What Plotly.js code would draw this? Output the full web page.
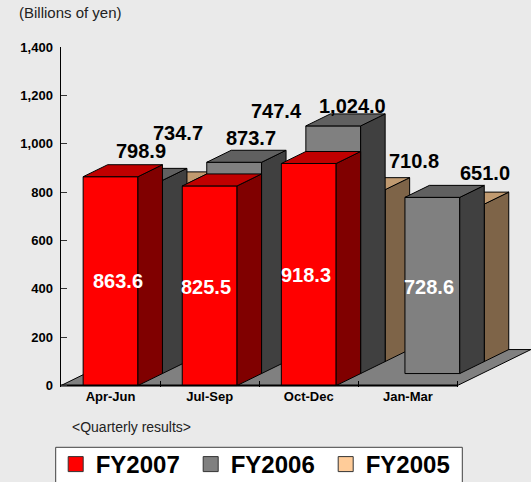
<!DOCTYPE html>
<html><head><meta charset="utf-8">
<script src="https://cdn.plot.ly/plotly-3.0.1.min.js"></script>
<style>html,body{margin:0;padding:0;background:#EAEAEA}</style>
</head><body><div id="chart" style="width:531px;height:482px"></div>
<script>
// ---- data ----
const categories = ['Apr-Jun', 'Jul-Sep', 'Oct-Dec', 'Jan-Mar'];
const seriesNames = ['FY2007', 'FY2006', 'FY2005'];
const fy2007 = [863.6, 825.5, 918.3, null];
const fy2006 = [798.9, 873.7, 1024.0, 728.6];
const fy2005 = [734.7, 747.4, 710.8, 651.0];
const yTickVals = [0, 200, 400, 600, 800, 1000, 1200, 1400];

// ---- styles / layout constants ----
const W = 531, H = 482;
const M = {l: 61, r: 0, t: 47, b: 95};
const plotW = W - M.l - M.r, plotH = H - M.t - M.b;
const yMin = -6, yMax = 1400;
const pxPerUnitY = plotH / (yMax - yMin);
const catPx = 99.1;                 // pixel width of one category
const xMax = plotW / catPx;
const barW = 0.553;                 // bar width as fraction of category
const dX = 24.5 / catPx;            // depth offset per series (x, category units)
const dY = 12 / pxPerUnitY;         // depth offset per series (y, value units)
const FONT = 'Liberation Sans, Arial, sans-serif';
const faceColors = [
  {front: '#FF0000', top: '#C00000', side: '#800000'},
  {front: '#808080', top: '#606060', side: '#404040'},
  {front: '#FFCC99', top: '#C09A70', side: '#7E6448'}
];
// pixel nudges [dx, dy(up)] for each value label
const labelNudge = [
  [[7, 0], [-4, -1], [-3, 0], null],
  [[-6.5, 23.6], [4.6, 17.9], [7, 13.5], [-3.4, -2]],
  [[5.8, 44.6], [5.9, 63.5], [44.2, 22.4], [15.7, 25.5]]
];

const series = [fy2007, fy2006, fy2005];
const nCat = categories.length, nSlot = series.length;
const traces = [];
const base = {type: 'scatter', mode: 'lines', hoverinfo: 'skip', showlegend: false};

// floor
traces.push(Object.assign({}, base, {
  x: [0, nCat, nCat + nSlot * dX, nSlot * dX, 0],
  y: [0, 0, nSlot * dY, nSlot * dY, 0],
  fill: 'toself', fillcolor: '#808080', line: {color: '#000', width: 1}
}));

// bars, back to front
for (let k = nSlot - 1; k >= 0; k--) {
  const vals = series[k];
  const fx = [], fy = [], sx = [], sy = [], tx = [], ty = [];
  vals.forEach((v, i) => {
    if (v == null) return;
    const x0 = i + (1 - barW) / 2 + k * dX, x1 = x0 + barW;
    const y0 = k * dY, y1 = y0 + v;
    fx.push(x0, x1, x1, x0, x0, null); fy.push(y0, y0, y1, y1, y0, null);
    sx.push(x1, x1 + dX, x1 + dX, x1, x1, null); sy.push(y0, y0 + dY, y1 + dY, y1, y0, null);
    tx.push(x0, x1, x1 + dX, x0 + dX, x0, null); ty.push(y1, y1, y1 + dY, y1 + dY, y1, null);
  });
  const c = faceColors[k];
  traces.push(Object.assign({}, base, {x: fx, y: fy, fill: 'toself', fillcolor: c.front, line: {color: '#000', width: 1}}));
  traces.push(Object.assign({}, base, {x: sx, y: sy, fill: 'toself', fillcolor: c.side, line: {color: '#000', width: 1}}));
  traces.push(Object.assign({}, base, {x: tx, y: ty, fill: 'toself', fillcolor: c.top, line: {color: '#000', width: 1}}));
}

// floor front edge
traces.push(Object.assign({}, base, {x: [0, nCat], y: [0, 0], line: {color: '#000', width: 2}}));

// legend entries
seriesNames.forEach((name, k) => {
  traces.push({type: 'scatter', mode: 'markers', x: [null], y: [null], name: name,
    marker: {symbol: 'square', size: 15, color: faceColors[k].front, line: {color: '#333', width: 1}},
    hoverinfo: 'skip', showlegend: true});
});

// value labels
const fmt = v => v.toLocaleString('en-US', {minimumFractionDigits: 1, maximumFractionDigits: 1});
const annotations = [];
series.forEach((vals, k) => vals.forEach((v, i) => {
  if (v == null) return;
  const isFront = series.findIndex(s => s[i] != null) === k;
  const nudge = labelNudge[k][i] || [0, 0];
  let x, y;
  if (isFront) { x = i + 0.5 + k * dX; y = k * dY + v / 2; }
  else { x = i + 0.5 + k * dX + dX / 2; y = v + k * dY + dY / 2; }
  annotations.push({x, y, xref: 'x', yref: 'y', text: fmt(v), showarrow: false,
    xanchor: 'center', yanchor: 'middle', xshift: nudge[0], yshift: nudge[1],
    font: {family: FONT, size: 20, weight: 'bold', color: isFront ? '#FFFFFF' : '#000000'}});
}));

const pxX = px => (px - M.l) / plotW;
const pxY = py => (H - M.b - py) / plotH;
annotations.push({xref: 'paper', yref: 'paper', x: pxX(16.7), y: pxY(13), xanchor: 'left', yanchor: 'middle',
  text: '(Billions of yen)', showarrow: false, font: {family: FONT, size: 15, color: '#222'}});
annotations.push({xref: 'paper', yref: 'paper', x: pxX(70.4), y: pxY(426.7), xanchor: 'left', yanchor: 'middle',
  text: '&lt;Quarterly results&gt;', showarrow: false, font: {family: FONT, size: 14, color: '#222'}});

const layout = {
  width: W, height: H,
  margin: Object.assign({autoexpand: false, pad: 0}, M),
  paper_bgcolor: '#EAEAEA', plot_bgcolor: 'rgba(0,0,0,0)',
  font: {family: FONT, color: '#000'},
  showlegend: true,
  xaxis: {range: [0, xMax], showgrid: false, zeroline: false, showline: false,
    tickmode: 'array', tickvals: categories.map((c, i) => i + 0.5), ticktext: categories, ticks: '',
    tickfont: {family: FONT, size: 13, weight: 'bold', color: '#000'},
    minor: {tickmode: 'array', tickvals: categories.map((c, i) => i + 1), ticks: 'inside', ticklen: 6, tickcolor: '#000', tickwidth: 1, showgrid: false},
    fixedrange: true},
  yaxis: {range: [yMin, yMax], showgrid: false, zeroline: false, showline: true, linecolor: '#000', linewidth: 1.5,
    tickmode: 'array', tickvals: yTickVals, tickformat: ',', ticks: 'inside', ticklen: 6, tickcolor: '#333', tickwidth: 1,
    ticklabelstandoff: 4,
    tickfont: {family: FONT, size: 13, weight: 'bold', color: '#000'}, fixedrange: true},
  legend: {orientation: 'h', x: pxX(55.7), xanchor: 'left', y: pxY(442), yanchor: 'top',
    bgcolor: 'rgba(0,0,0,0)', borderwidth: 0, entrywidth: 90, entrywidthmode: 'pixels',
    font: {family: FONT, size: 24, weight: 'bold', color: '#000'}, itemclick: false, itemdoubleclick: false},
  shapes: [{type: 'rect', xref: 'paper', yref: 'paper', layer: 'above',
    x0: pxX(55.7), x1: pxX(462.3), y0: pxY(447.3), y1: pxY(495),
    fillcolor: '#FFFFFF', line: {color: '#404040', width: 1}}],
  annotations: annotations
};

Plotly.newPlot('chart', traces, layout, {displayModeBar: false, staticPlot: true});
</script>
</body></html>
